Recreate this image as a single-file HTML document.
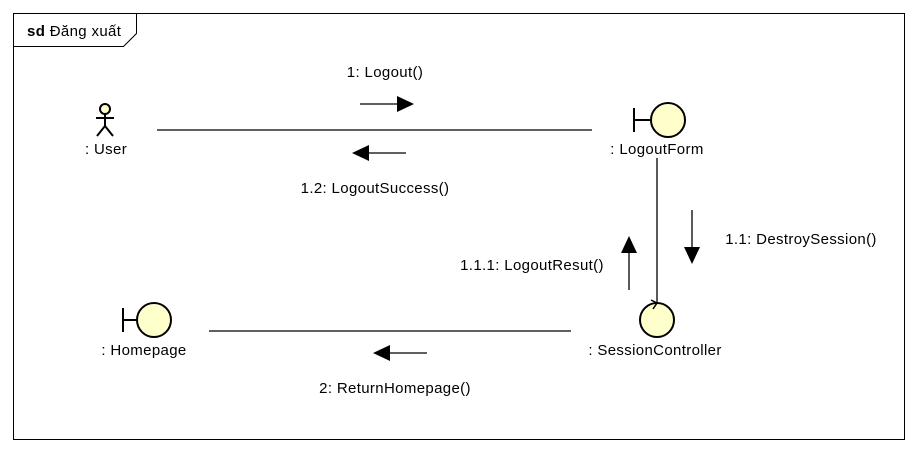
<!DOCTYPE html>
<html><head><meta charset="utf-8"><style>
body{margin:0;background:#fff;width:917px;height:453px;overflow:hidden}
svg text{font-family:"Liberation Sans","DejaVu Sans",sans-serif;font-size:15px;letter-spacing:0.35px;fill:#000}
</style></head><body>
<svg width="917" height="453" xmlns="http://www.w3.org/2000/svg">
<rect x="13.5" y="13.5" width="891" height="426" fill="#fff" stroke="#000"/>
<path d="M13.5 46.5 H123.5 L136.5 33.5 V13.5" fill="none" stroke="#000"/>
<text x="27" y="36"><tspan font-weight="bold">sd</tspan> Đăng xuất</text>
<g stroke="#000" stroke-width="2" fill="none">
<circle cx="105" cy="109" r="5" fill="#ffffcc"/>
<line x1="105" y1="114" x2="105" y2="126"/>
<line x1="96" y1="118" x2="114" y2="118"/>
<line x1="105" y1="126" x2="97" y2="136"/>
<line x1="105" y1="126" x2="113" y2="136"/>
</g>
<text x="106" y="154" text-anchor="middle">: User</text>
<g stroke="#000" stroke-width="2">
<line x1="634" y1="108" x2="634" y2="132"/>
<line x1="634" y1="120" x2="651" y2="120"/>
<ellipse cx="668" cy="120" rx="17" ry="17" fill="#ffffcc"/>
</g>
<text x="657" y="154" text-anchor="middle">: LogoutForm</text>
<g stroke="#000" stroke-width="2">
<line x1="123" y1="308" x2="123" y2="332"/>
<line x1="123" y1="320" x2="137" y2="320"/>
<ellipse cx="154" cy="320" rx="17" ry="17" fill="#ffffcc"/>
</g>
<text x="144" y="355" text-anchor="middle">: Homepage</text>
<g stroke="#000" stroke-width="2">
<ellipse cx="657" cy="320" rx="17" ry="17" fill="#ffffcc"/>
<path d="M651 300 L657 303 L653 309" fill="none" stroke-width="1.5"/>
</g>
<text x="655" y="355" text-anchor="middle">: SessionController</text>
<g stroke="#000" stroke-width="1.3">
<line x1="157" y1="130" x2="592" y2="130"/>
<line x1="209" y1="331" x2="571" y2="331"/>
<line x1="657" y1="158" x2="657" y2="303"/>
<line x1="360" y1="104" x2="398" y2="104"/>
<line x1="368" y1="153" x2="406" y2="153"/>
<line x1="692" y1="210" x2="692" y2="248"/>
<line x1="629" y1="252" x2="629" y2="290"/>
<line x1="389" y1="353" x2="427" y2="353"/>
</g>
<g fill="#000">
<polygon points="414,104 397,96 397,112"/>
<polygon points="352,153 369,145 369,161"/>
<polygon points="692,264 684,247 700,247"/>
<polygon points="629,236 621,253 637,253"/>
<polygon points="373,353 390,345 390,361"/>
</g>
<text x="385" y="77" text-anchor="middle">1: Logout()</text>
<text x="375" y="193" text-anchor="middle">1.2: LogoutSuccess()</text>
<text x="801" y="244" text-anchor="middle">1.1: DestroySession()</text>
<text x="532" y="270" text-anchor="middle">1.1.1: LogoutResut()</text>
<text x="395" y="393" text-anchor="middle">2: ReturnHomepage()</text>
</svg>
</body></html>
